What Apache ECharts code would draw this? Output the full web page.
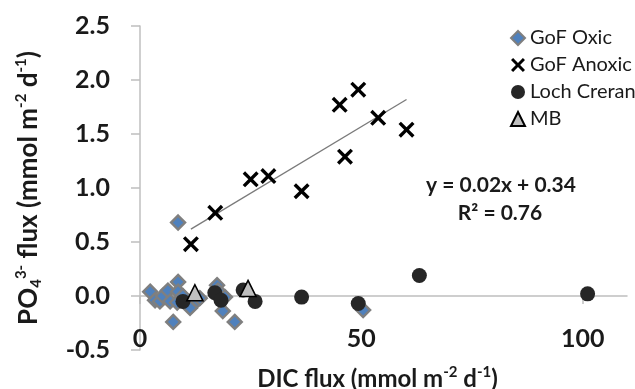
<!DOCTYPE html>
<html>
<head>
<meta charset="utf-8">
<script src="https://cdn.jsdelivr.net/npm/echarts@6/dist/echarts.min.js"></script>
<style>
  html, body { margin: 0; padding: 0; background: #fff; }
  #chart { width: 635px; height: 389px; }
</style>
</head>
<body>
<div id="chart"></div>
<script>
// Gulf of Finland (oxic / anoxic), Loch Creran and MB flux measurements
const oxicX   = [2.3, 3.4, 4.5, 5.2, 6.3, 6.8, 7.5, 8.4, 8.6, 8.6, 8.6, 9.7, 11.3, 12.9, 13.5, 17.4, 17.6, 18.7, 19.2, 21.4, 50.4];
const oxicY   = [0.04, -0.04, -0.05, 0.00, 0.05, -0.05, -0.24, -0.06, 0.13, 0.04, 0.68, 0.00, -0.11, -0.04, -0.02, 0.10, 0.05, -0.14, -0.01, -0.24, -0.13];

const anoxicX = [11.5, 17.0, 25.0, 29.0, 36.5, 45.1, 46.3, 49.3, 53.8, 60.2];
const anoxicY = [0.48, 0.77, 1.08, 1.11, 0.97, 1.77, 1.29, 1.91, 1.65, 1.54];

const creranX = [9.7, 16.9, 18.3, 23.3, 26.0, 36.5, 49.3, 63.1, 101.1];
const creranY = [-0.05, 0.03, -0.04, 0.055, -0.05, -0.01, -0.07, 0.19, 0.02];

const mbX = [12.4, 24.4];
const mbY = [0.03, 0.07];

const seriesNames = ['GoF Oxic', 'GoF Anoxic', 'Loch Creran', 'MB'];
const xTicks = [0, 50, 100];
const yTicks = [-0.5, 0, 0.5, 1, 1.5, 2, 2.5];

const pairs = (xs, ys) => xs.map((x, i) => [x, ys[i]]);

// Least-squares trend for the anoxic stations
function linearFit(xs, ys) {
  const n = xs.length;
  const mx = xs.reduce((a, b) => a + b, 0) / n;
  const my = ys.reduce((a, b) => a + b, 0) / n;
  let sxy = 0, sxx = 0, syy = 0;
  for (let i = 0; i < n; i++) {
    sxy += (xs[i] - mx) * (ys[i] - my);
    sxx += (xs[i] - mx) ** 2;
    syy += (ys[i] - my) ** 2;
  }
  const slope = sxy / sxx;
  return { slope, intercept: my - slope * mx, r2: (sxy * sxy) / (sxx * syy) };
}
const fit = linearFit(anoxicX, anoxicY);
const xMin = Math.min(...anoxicX), xMax = Math.max(...anoxicX);
const trend = [[xMin, fit.intercept + fit.slope * xMin], [xMax, fit.intercept + fit.slope * xMax]];

const FONT = 'Lato, "Open Sans", sans-serif';
const TXT = '#1a1a1a';
const AXIS = '#bfbfbf';
const CROSS = 'path://M0,3 L3,0 L10,7 L17,0 L20,3 L13,10 L20,17 L17,20 L10,13 L3,20 L0,17 L7,10 Z';

const chart = echarts.init(document.getElementById('chart'), null, { renderer: 'canvas' });
chart.setOption({
  animation: false,
  backgroundColor: '#fff',
  textStyle: { fontFamily: FONT },
  grid: { left: 140, right: 8, top: 26, bottom: 39, containLabel: false, outerBoundsMode: 'none' },
  legend: {
    data: seriesNames,
    orient: 'vertical',
    left: 505,
    top: 22,
    itemWidth: 14,
    itemHeight: 14,
    itemGap: 5,
    textStyle: { fontFamily: FONT, fontSize: 20, color: TXT, lineHeight: 22 }
  },
  xAxis: [
    {
      // tick labels and title along the bottom edge
      type: 'value',
      min: 0,
      max: 110,
      interval: 50,
      position: 'bottom',
      name: '{b|DIC flux (mmol m}{s|-2}{b| d}{s|-1}{b|)}',
      nameLocation: 'middle',
      nameGap: 15,
      nameTextStyle: {
        padding: [0, 12, 0, 0],
        rich: {
          b: { fontFamily: FONT, fontWeight: 'bold', fontSize: 24, color: TXT, lineHeight: 26, verticalAlign: 'bottom' },
          s: { fontFamily: FONT, fontWeight: 'bold', fontSize: 15, color: TXT, lineHeight: 14, verticalAlign: 'top' }
        }
      },
      splitLine: { show: false },
      axisLine: { show: false, onZero: false },
      axisTick: { show: false },
      axisLabel: {
        customValues: xTicks,
        margin: -24,
        fontFamily: FONT, fontWeight: 'bold', fontSize: 25, color: TXT
      }
    },
    {
      // the zero line with its ticks
      type: 'value',
      min: 0,
      max: 110,
      interval: 50,
      position: 'top',
      splitLine: { show: false },
      axisLine: { show: true, onZero: true, lineStyle: { color: AXIS, width: 1.5 } },
      axisTick: { show: true, inside: true, length: 8, customValues: xTicks, lineStyle: { color: AXIS, width: 1.5 } },
      axisLabel: { show: false }
    }
  ],
  yAxis: {
    type: 'value',
    min: -0.5,
    max: 2.5,
    interval: 0.5,
    name: '{b|PO}{d|4}{s|3-}{b| flux (mmol m}{s|-2}{b| d}{s|-1}{b|)}',
    nameLocation: 'middle',
    nameRotate: 90,
    nameGap: 96,
    nameTextStyle: {
      rich: {
        b: { fontFamily: FONT, fontWeight: 'bold', fontSize: 26, color: TXT, lineHeight: 30 },
        s: { fontFamily: FONT, fontWeight: 'bold', fontSize: 15, color: TXT, lineHeight: 15, verticalAlign: 'top' },
        d: { fontFamily: FONT, fontWeight: 'bold', fontSize: 15, color: TXT, lineHeight: 15, verticalAlign: 'bottom' }
      }
    },
    splitLine: { show: false },
    axisLine: { show: true, lineStyle: { color: AXIS, width: 1.5 } },
    axisTick: { show: true, length: 9, customValues: yTicks, lineStyle: { color: AXIS, width: 1.5 } },
    axisLabel: {
      customValues: yTicks,
      margin: 30,
      formatter: v => v.toFixed(1),
      fontFamily: FONT, fontWeight: 'bold', fontSize: 25, color: TXT
    }
  },
  graphic: [
    {
      type: 'text', x: 501, y: 185,
      style: {
        text: 'y = ' + fit.slope.toFixed(2) + 'x + ' + fit.intercept.toFixed(2),
        font: 'bold 21px ' + FONT, fill: TXT, align: 'center', verticalAlign: 'middle'
      }
    },
    {
      type: 'text', x: 500, y: 213,
      style: {
        text: 'R\u00b2 = ' + fit.r2.toFixed(2),
        font: 'bold 21px ' + FONT, fill: TXT, align: 'center', verticalAlign: 'middle'
      }
    }
  ],
  series: [
    {
      name: 'GoF Oxic', type: 'scatter', data: pairs(oxicX, oxicY),
      symbol: 'diamond', symbolSize: 14,
      itemStyle: { color: '#4f81bd', borderColor: '#7f7f7f', borderWidth: 2.4, opacity: 1 },
      z: 2
    },
    {
      name: 'GoF Anoxic', type: 'scatter', data: pairs(anoxicX, anoxicY),
      symbol: CROSS, symbolSize: 16,
      itemStyle: { color: '#000', opacity: 1 },
      z: 3
    },
    {
      name: 'Loch Creran', type: 'scatter', data: pairs(creranX, creranY),
      symbol: 'circle', symbolSize: 15,
      itemStyle: { color: '#262626', opacity: 1 },
      z: 4
    },
    {
      name: 'MB', type: 'scatter', data: pairs(mbX, mbY),
      symbol: 'triangle', symbolSize: 16,
      itemStyle: { color: '#bfbfbf', borderColor: '#000', borderWidth: 1.6, opacity: 1 },
      z: 5
    },
    {
      name: 'trend', type: 'line', data: trend,
      symbol: 'none', silent: true,
      lineStyle: { color: '#7a7a7a', width: 1.3 },
      z: 3
    }
  ]
});
</script>
</body>
</html>
